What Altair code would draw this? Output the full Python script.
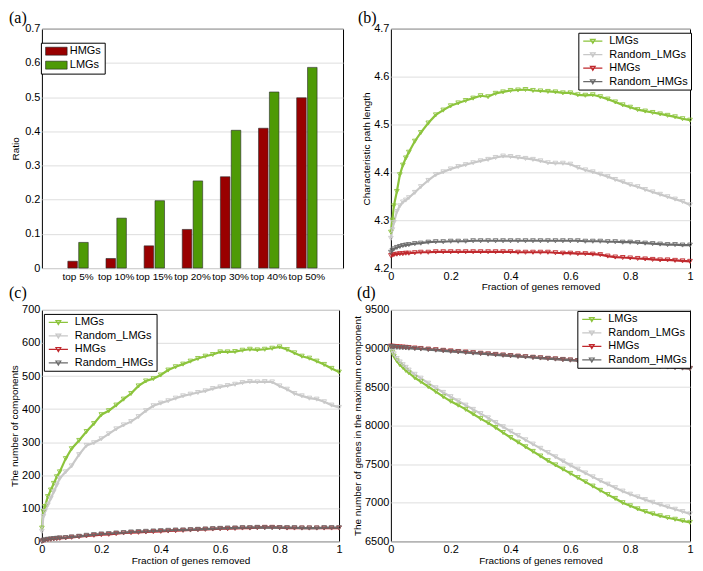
import altair as alt
import pandas as pd

# ---------------- panel (a) ----------------
categories = ["top 5%", "top 10%", "top 15%", "top 20%", "top 30%", "top 40%", "top 50%"]
ratio_hmgs = [0.020, 0.028, 0.065, 0.113, 0.267, 0.409, 0.498]
ratio_lmgs = [0.075, 0.146, 0.197, 0.255, 0.403, 0.515, 0.587]
bar_groups = ["HMGs", "LMGs"]
bar_colors = ["#990000", "#4e9a06"]

# ---------------- shared x for (b), (c), (d) ----------------
fraction = [0, 0.005, 0.01, 0.02, 0.03, 0.04, 0.05, 0.06, 0.08, 0.1,
            0.125, 0.15, 0.175, 0.2, 0.225, 0.25, 0.275, 0.3, 0.325, 0.35,
            0.375, 0.4, 0.425, 0.45, 0.475, 0.5, 0.525, 0.55, 0.575, 0.6,
            0.625, 0.65, 0.675, 0.7, 0.725, 0.75, 0.775, 0.8, 0.825, 0.85,
            0.875, 0.9, 0.925, 0.95, 0.975, 1.0]
series_names = ["LMGs", "Random_LMGs", "HMGs", "Random_HMGs"]
series_colors = ["#8cc43c", "#c8c8c8", "#c0282d", "#6b6b6b"]

# ---------------- panel (b): characteristic path length ----------------
b_lmgs = [4.275, 4.30, 4.33, 4.36, 4.395, 4.415, 4.43, 4.442, 4.465, 4.483,
          4.503, 4.52, 4.53, 4.539, 4.545, 4.55, 4.555, 4.56, 4.558, 4.565,
          4.568, 4.571, 4.572, 4.573, 4.571, 4.57, 4.569, 4.568, 4.566, 4.566,
          4.562, 4.561, 4.562, 4.558, 4.553, 4.547, 4.541, 4.536, 4.531, 4.528,
          4.525, 4.522, 4.519, 4.516, 4.512, 4.509]
b_random_lmgs = [4.262, 4.28, 4.295, 4.318, 4.33, 4.338, 4.342, 4.347, 4.358, 4.37,
                 4.383, 4.395, 4.401, 4.407, 4.412, 4.416, 4.42, 4.424, 4.427, 4.431,
                 4.434, 4.433, 4.431, 4.429, 4.427, 4.424, 4.42, 4.419, 4.419, 4.417,
                 4.41, 4.405, 4.401, 4.396, 4.391, 4.385, 4.38, 4.374, 4.37, 4.364,
                 4.359, 4.354, 4.349, 4.344, 4.339, 4.332]
b_hmgs = [4.226, 4.227, 4.228, 4.229, 4.23, 4.23, 4.231, 4.231, 4.232, 4.233,
          4.233, 4.234, 4.234, 4.234, 4.234, 4.234, 4.234, 4.234, 4.234, 4.234,
          4.234, 4.234, 4.233, 4.233, 4.233, 4.233, 4.233, 4.232, 4.231, 4.231,
          4.23, 4.23, 4.229, 4.228, 4.225, 4.223, 4.222, 4.221, 4.22, 4.219,
          4.218, 4.217, 4.217, 4.216, 4.215, 4.214]
b_random_hmgs = [4.233, 4.237, 4.24, 4.243, 4.245, 4.247, 4.248, 4.249, 4.251, 4.252,
                 4.254, 4.255, 4.255, 4.256, 4.256, 4.256, 4.257, 4.257, 4.257, 4.257,
                 4.257, 4.257, 4.257, 4.257, 4.257, 4.257, 4.257, 4.257, 4.257, 4.257,
                 4.257, 4.256, 4.256, 4.256, 4.255, 4.255, 4.254, 4.254, 4.253, 4.252,
                 4.251, 4.25, 4.249, 4.249, 4.248, 4.248]

# ---------------- panel (c): number of components ----------------
c_lmgs = [40, 90, 105, 135, 155, 175, 195, 210, 250, 280,
          305, 332, 356, 383, 395, 412, 430, 447, 470, 485,
          492, 503, 518, 528, 536, 545, 553, 560, 565, 573,
          573, 574, 578, 581, 579, 581, 584, 588, 580, 570,
          560, 554, 545, 535, 523, 512]
c_random_lmgs = [30, 75, 90, 110, 130, 150, 170, 190, 210, 228,
                 262, 290, 298, 310, 325, 340, 352, 362, 377, 395,
                 410, 418, 425, 433, 440, 445, 450, 455, 462, 467,
                 471, 475, 480, 483, 482, 483, 482, 470, 460, 447,
                 440, 433, 430, 422, 412, 405]
c_hmgs = [0, 2, 3, 5, 6, 7, 8, 9, 10, 12,
          14, 16, 18, 20, 21, 23, 25, 26, 27, 28,
          29, 30, 31, 32, 33, 34, 35, 36, 37, 38,
          38, 39, 40, 40, 41, 42, 42, 41, 40, 40,
          40, 40, 40, 40, 40, 40]
c_random_hmgs = [0, 3, 4, 6, 7, 8, 9, 10, 11, 13,
                 15, 18, 20, 22, 23, 25, 26, 28, 29, 30,
                 31, 32, 33, 34, 34, 35, 36, 37, 38, 39,
                 40, 40, 41, 41, 42, 41, 41, 41, 41, 41,
                 40, 40, 40, 41, 41, 41]

# ---------------- panel (d): genes in maximum component ----------------
d_lmgs = [9000, 8950, 8900, 8840, 8790, 8755, 8715, 8685, 8620, 8570,
          8505, 8440, 8375, 8315, 8265, 8210, 8150, 8090, 8035, 7975,
          7910, 7845, 7785, 7725, 7665, 7605, 7545, 7490, 7435, 7380,
          7325, 7270, 7215, 7160, 7105, 7055, 7000, 6960, 6920, 6885,
          6855, 6830, 6805, 6785, 6765, 6745]
d_random_lmgs = [9010, 8970, 8930, 8870, 8825, 8790, 8755, 8720, 8665, 8615,
                 8550, 8490, 8430, 8375, 8320, 8265, 8210, 8155, 8100, 8040,
                 7985, 7925, 7870, 7815, 7760, 7705, 7650, 7595, 7540, 7485,
                 7435, 7385, 7335, 7285, 7240, 7195, 7150, 7110, 7075, 7040,
                 7005, 6975, 6945, 6915, 6885, 6855]
d_hmgs = [9030, 9028, 9027, 9024, 9021, 9018, 9015, 9012, 9006, 9000,
          8992, 8984, 8976, 8968, 8960, 8953, 8945, 8938, 8930, 8923,
          8915, 8908, 8900, 8893, 8886, 8879, 8872, 8865, 8858, 8851,
          8844, 8837, 8830, 8823, 8816, 8810, 8803, 8796, 8789, 8783,
          8776, 8769, 8763, 8756, 8749, 8742]
d_random_hmgs = [9022, 9020, 9018, 9015, 9012, 9010, 9007, 9004, 8998, 8993,
                 8985, 8978, 8970, 8962, 8955, 8948, 8940, 8933, 8926, 8918,
                 8911, 8904, 8897, 8890, 8883, 8876, 8869, 8862, 8855, 8848,
                 8841, 8834, 8827, 8820, 8813, 8806, 8800, 8793, 8786, 8779,
                 8772, 8766, 8759, 8752, 8745, 8738]

FONT = "Liberation Sans"
SERIF = "Liberation Serif"


def long_df(cols):
    rows = []
    for name, vals in zip(series_names, cols):
        for x, v in zip(fraction, vals):
            rows.append({"x": x, "v": v, "series": name})
    return pd.DataFrame(rows)


def panel_title(txt, dx, off=-3):
    return alt.TitleParams(txt, anchor="start", frame="group", dx=dx, offset=off,
                           font=SERIF, fontSize=16, fontWeight="normal", color="black")


LINE_SYMBOL = "M-2.4,0H2.4M-0.6,-0.45H0.6L0,0.55Z"


def line_legend(lx, ly):
    return alt.Legend(title=None, orient="none", legendX=lx, legendY=ly,
                      symbolType=LINE_SYMBOL, symbolSize=64, symbolStrokeWidth=1.2,
                      symbolOpacity=1,
                      symbolOffset=6, labelOffset=11, padding=3, rowPadding=1.5,
                      strokeColor="black", fillColor="white",
                      labelFont=FONT, labelFontSize=11, labelColor="black")


def line_panel(cols, ydomain, yticks, ytitle, xtitle, w, h, title, dx, lx, ly, off):
    df = long_df(cols)
    base = alt.Chart(df).encode(
        x=alt.X("x:Q", scale=alt.Scale(domain=[0, 1], nice=False),
                axis=alt.Axis(values=[0, 0.2, 0.4, 0.6, 0.8, 1], format="~g",
                              title=xtitle, grid=False, labelFlush=False,
                              labelPadding=2, titlePadding=1)),
        y=alt.Y("v:Q", scale=alt.Scale(domain=ydomain, nice=False, zero=False),
                axis=alt.Axis(values=yticks, title=ytitle, grid=True,
                              format="d" if ydomain[1] > 10 else ".1f",
                              labelPadding=2, titlePadding=2, labelFlush=False)),
        color=alt.Color("series:N",
                        scale=alt.Scale(domain=series_names, range=series_colors),
                        legend=line_legend(lx, ly)),
    )
    line = base.mark_line(strokeWidth=2.2)
    pts = base.mark_point(shape="triangle-down", filled=False, size=22, strokeWidth=0.9,
                          opacity=1)
    return alt.layer(line, pts).properties(width=w, height=h,
                                           title=panel_title(title, dx, off))


# ---------------- build (a) ----------------
bar_rows = []
for c, hv, lv in zip(categories, ratio_hmgs, ratio_lmgs):
    bar_rows.append({"cat": c, "group": "HMGs", "ratio": hv})
    bar_rows.append({"cat": c, "group": "LMGs", "ratio": lv})
bar_df = pd.DataFrame(bar_rows)

chart_a = alt.Chart(bar_df).mark_bar(stroke="#2a2a2a", strokeWidth=0.6, opacity=1).encode(
    x=alt.X("cat:N", sort=categories,
            scale=alt.Scale(paddingInner=0.465, paddingOuter=0.68),
            axis=alt.Axis(title=None, labelAngle=0, labelOverlap=False, labelPadding=3,
                          labelFontSize=10)),
    xOffset=alt.XOffset("group:N", sort=bar_groups, scale=alt.Scale(paddingInner=0.12)),
    y=alt.Y("ratio:Q", scale=alt.Scale(domain=[0, 0.7], nice=False),
            axis=alt.Axis(values=[0, 0.1, 0.2, 0.3, 0.4, 0.5, 0.6, 0.7], format="~g",
                          title="Ratio", grid=True, labelPadding=2, titlePadding=4)),
    color=alt.Color("group:N", scale=alt.Scale(domain=bar_groups, range=bar_colors),
                    legend=alt.Legend(title=None, orient="none", legendX=-1, legendY=14,
                                      symbolType="M-2.7,-1H2.7V1H-2.7Z", symbolSize=64,
                                      symbolStrokeColor="#222222", symbolStrokeWidth=0.6,
                                      symbolOpacity=1,
                                      symbolOffset=7, labelOffset=8, padding=3, rowPadding=2,
                                      strokeColor="black", fillColor="white",
                                      labelFont=FONT, labelFontSize=11, labelColor="black")),
).properties(width=302, height=240, title=panel_title("(a)", -33))

chart_b = line_panel([b_lmgs, b_random_lmgs, b_hmgs, b_random_hmgs],
                     [4.2, 4.7], [4.2, 4.3, 4.4, 4.5, 4.6, 4.7],
                     "Characteristic path length", "Fraction of genes removed",
                     300, 240, "(b)", -33, 188, 4, -3)

chart_c = line_panel([c_lmgs, c_random_lmgs, c_hmgs, c_random_hmgs],
                     [0, 700], [0, 100, 200, 300, 400, 500, 600, 700],
                     "The number of components", "Fraction of genes removed",
                     298, 232, "(c)", -33, 2, 4, 3)

chart_d = line_panel([d_lmgs, d_random_lmgs, d_hmgs, d_random_hmgs],
                     [6500, 9500], [6500, 7000, 7500, 8000, 8500, 9000, 9500],
                     "The number of genes in the maximum component", "Fractions of genes removed",
                     300, 232, "(d)", -34, 187, 1, 3)

chart = alt.concat(chart_a, chart_b, chart_c, chart_d, columns=2, bounds="flush",
                   spacing={"row": 42, "column": 48}).resolve_scale(
    color="independent").resolve_legend(color="independent").properties(
    padding=0, background="white"
).configure_view(stroke="black", strokeWidth=1, fill="white").configure_axis(
    labelFont=FONT, labelFontSize=11, labelColor="black",
    titleFont=FONT, titleFontSize=10, titleFontWeight="normal", titleColor="black",
    ticks=False, domain=False, gridColor="#dedede", gridWidth=1
)

chart.save("out.html", embed_options={"renderer": "svg", "actions": False})
